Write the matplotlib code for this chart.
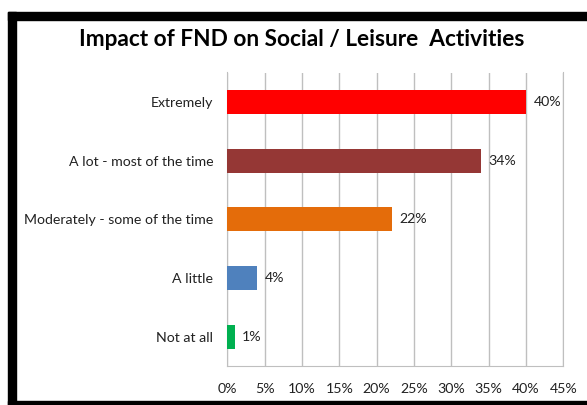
import matplotlib.pyplot as plt
from matplotlib.patches import Rectangle

# Data
categories = ['Extremely', 'A lot - most of the time', 'Moderately - some of the time',
              'A little', 'Not at all']
values = [40, 34, 22, 4, 1]
colors = ['#FF0000', '#953735', '#E46C0A', '#4F81BD', '#00B050']
xticks = [0, 5, 10, 15, 20, 25, 30, 35, 40, 45]

plt.rcParams['font.family'] = ['Lato', 'DejaVu Sans']

W, H = 587, 405
fig = plt.figure(figsize=(W / 100, H / 100), dpi=100)
ax = fig.add_axes([227.3 / W, 1 - 366 / H, 336 / W, 293.5 / H])

ypos = list(range(len(categories)))[::-1]
ax.barh(ypos, values, height=0.41, color=colors, zorder=3)
for y, v in zip(ypos, values):
    ax.text(v + 1.0, y, f'{v}%', va='center', ha='left', fontsize=10.2, color='#222222')

ax.set_xlim(0, 45)
ax.set_ylim(-0.5, len(categories) - 0.5)
ax.set_xticks(xticks)
ax.set_xticklabels([f'{t}%' for t in xticks], fontsize=10.2, color='#222222')
ax.set_yticks(ypos)
ax.set_yticklabels(categories, fontsize=10.2, color='#222222')
ax.tick_params(axis='both', length=0)
ax.tick_params(axis='x', pad=12)
ax.tick_params(axis='y', pad=10)
ax.grid(axis='x', color='#BFBFBF', linewidth=1, zorder=0)
for side in ['left', 'bottom', 'right']:
    ax.spines[side].set_color('#BFBFBF')
ax.spines['top'].set_visible(False)

fig.text(302 / W, 1 - 40 / H, 'Impact of FND on Social / Leisure  Activities',
         ha='center', va='center', fontsize=16.3, fontweight='bold', color='black')

# black frame around the chart
fig.patches.append(Rectangle((8 / W, 1 - 20 / H), 1, 8 / H, transform=fig.transFigure,
                             color='black', zorder=10))
fig.patches.append(Rectangle((8 / W, 0), 8 / W, 1 - 12 / H, transform=fig.transFigure,
                             color='black', zorder=10))
fig.patches.append(Rectangle((8 / W, 0), 1, 4 / H, transform=fig.transFigure,
                             color='black', zorder=10))

fig.savefig('out.png', dpi=100)
